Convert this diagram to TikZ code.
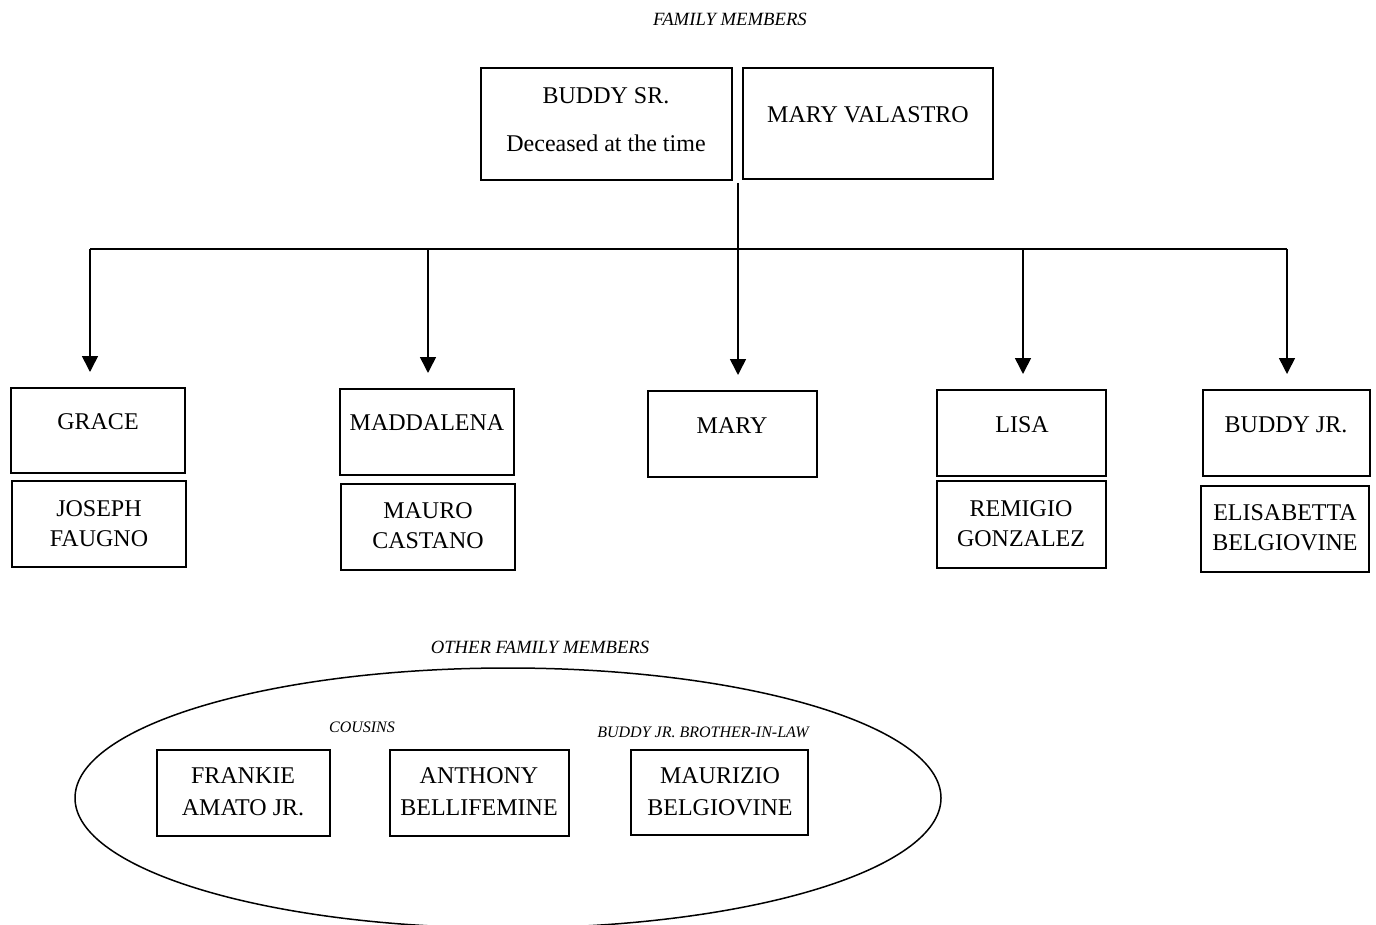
\documentclass[tikz,border=0pt]{standalone}
\usepackage{fontspec}
\setmainfont{Liberation Serif}
\usetikzlibrary{shapes.geometric,arrows.meta}
% rectangular frame given by its corners: name, x1, y1, x2, y2
\newcommand\famframe[5]{%
  \node[box, minimum width={(#4-#2)*1pt}, minimum height={(#5-#3)*1pt}]
    (#1) at ({(#2+#4)/2},{(#3+#5)/2}) {};}
\begin{document}
\begin{tikzpicture}[x=1pt,y=-1pt,
  box/.style={draw,line width=2pt,rectangle,inner sep=0pt,outer sep=0pt},
  person/.style={font=\fontsize{24}{30}\selectfont,align=center,inner sep=0pt},
  heading/.style={font=\fontsize{18.7}{22}\selectfont\itshape,inner sep=0pt},
  note/.style={font=\fontsize{16}{20}\selectfont\itshape,inner sep=0pt},
  link/.style={line width=1.6pt},
  arr/.style={line width=1.6pt,-{Triangle[length=16pt,width=16pt]},shorten >=16pt}]
\useasboundingbox (0,0) rectangle (1376,925);
\clip (0,0) rectangle (1376,925);

% headings
\node[heading] (hfam) at (730,19) {FAMILY MEMBERS};
\node[heading] (hother) at (540,647) {OTHER FAMILY MEMBERS};

% parents
\famframe{sr}{481}{68}{732}{180}
\famframe{mv}{743}{68}{993}{179}
\node[person] (tsr1) at (606,96) {BUDDY SR.};
\node[person] (tsr2) at (606,143) {Deceased at the time};
\node[person] (tmv) at (868,115) {MARY VALASTRO};

% children and spouses
\famframe{grace}{11}{388}{185}{473}
\famframe{joseph}{12}{481}{186}{567}
\famframe{madd}{340}{389}{514}{475}
\famframe{mauro}{341}{484}{515}{570}
\famframe{mary}{648}{391}{817}{477}
\famframe{lisa}{937}{390}{1106}{476}
\famframe{remigio}{937}{481}{1106}{568}
\famframe{bjr}{1203}{390}{1370}{476}
\famframe{elis}{1201}{486}{1369}{572}

\node[person] (tgrace) at (98,422) {GRACE};
\node[person] (tjoseph) at (99,524) {JOSEPH\\FAUGNO};
\node[person] (tmadd) at (427,423) {MADDALENA};
\node[person] (tmauro) at (428,526) {MAURO\\CASTANO};
\node[person] (tmary) at (732,426) {MARY};
\node[person] (tlisa) at (1022,425) {LISA};
\node[person] (tremigio) at (1021,524) {REMIGIO\\GONZALEZ};
\node[person] (tbjr) at (1286,425) {BUDDY JR.};
\node[person] (telis) at (1285,528) {ELISABETTA\\BELGIOVINE};

% connectors
\coordinate (couple) at (738,183);
\coordinate (b1) at (90,249);
\coordinate (b2) at (428,249);
\coordinate (b3) at (738,249);
\coordinate (b4) at (1023,249);
\coordinate (b5) at (1287,249);
\draw[link] (couple) -- (b3);
\draw[link] (b1) -- (b5);
\draw[arr] (b1) -- (b1 |- grace.north);
\draw[arr] (b2) -- (b2 |- madd.north);
\draw[arr] (b3) -- (b3 |- mary.north);
\draw[arr] (b4) -- (b4 |- lisa.north);
\draw[arr] (b5) -- (b5 |- bjr.north);

% other family members
\node[draw,ellipse,line width=1.5pt,minimum width=866pt,minimum height=260pt,inner sep=0pt]
  (others) at (508,798) {};
\node[note] (ncous) at (362,727) {COUSINS};
\node[note] (nbil) at (703,732) {BUDDY JR. BROTHER-IN-LAW};
\famframe{frankie}{157}{750}{330}{836}
\famframe{anthony}{390}{750}{569}{836}
\famframe{maurizio}{631}{750}{808}{835}
\begin{scope}[person/.append style={font=\fontsize{24}{32}\selectfont}]
\node[person] (tfrankie) at (243,792) {FRANKIE\\AMATO JR.};
\node[person] (tanthony) at (479,792) {ANTHONY\\BELLIFEMINE};
\node[person] (tmaurizio) at (720,792) {MAURIZIO\\BELGIOVINE};
\end{scope}
\end{tikzpicture}
\end{document}
